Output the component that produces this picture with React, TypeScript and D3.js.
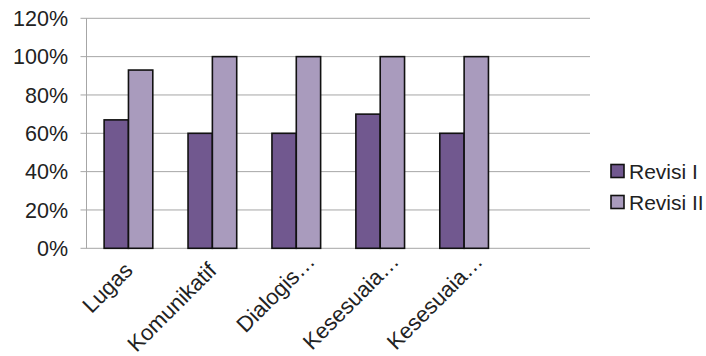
import React from "react";
import * as d3 from "d3";

const categories = ["Lugas", "Komunikatif", "Dialogis…", "Kesesuaia…", "Kesesuaia…"];
const series = ["Revisi I", "Revisi II"];
const revisi1 = [67, 60, 60, 70, 60];
const revisi2 = [93, 100, 100, 100, 100];
const yTicks = [0, 20, 40, 60, 80, 100, 120];
const colors = ["#71588F", "#A99BBD"];

const W = 706;
const H = 356;
const left = 86.5;
const right = 590;
const top = 18.3;
const bottom = 248.3;
const font = "'Liberation Sans', Arial, Helvetica, sans-serif";

export default function App() {
  const slots = categories.map((c, i) => `${i}`).concat(["empty"]);
  const x = d3.scaleBand<string>().domain(slots).range([left, right]).padding(0);
  const y = d3.scaleLinear().domain([0, 120]).range([bottom, top]);
  const step = x.step();
  const barW = step * 0.29;
  const values = [revisi1, revisi2];

  return (
    <svg width={W} height={H} style={{ position: "absolute", left: 0, top: 0 }} fontFamily={font}>
      <rect width={W} height={H} fill="#fff" />
      {yTicks.map((t) => (
        <g key={t}>
          <line x1={left - 6} x2={right} y1={y(t)} y2={y(t)} stroke="#A6A6A6" strokeWidth={1} />
          <text x={68} y={y(t)} dy="0.36em" textAnchor="end" fontSize={21.5} fill="#222">
            {t}%
          </text>
        </g>
      ))}
      <line x1={left} x2={left} y1={top} y2={bottom} stroke="#A6A6A6" strokeWidth={1} />
      {categories.map((c, i) => {
        const cx = (x(`${i}`) as number) + step / 2;
        const trunc = c.endsWith("…");
        const ax = cx + (trunc ? 20 : 5.5);
        const ay = bottom + (trunc ? 14.5 : 23.5);
        return (
          <g key={i}>
            {values.map((vals, s) => {
              const bx = cx - barW + s * barW;
              return (
                <rect
                  key={s}
                  x={bx}
                  y={y(vals[i])}
                  width={barW}
                  height={bottom - y(vals[i])}
                  fill={colors[s]}
                  stroke="#111"
                  strokeWidth={1.6}
                />
              );
            })}
            <text
              transform={`translate(${ax},${ay}) rotate(-45)`}
              textAnchor="end"
              fontSize={22}
              fill="#222"
            >
              {c}
            </text>
          </g>
        );
      })}
      {series.map((s, i) => (
        <g key={s} transform={`translate(611,${171 + i * 31})`}>
          <rect x={0} y={-6.5} width={13} height={13} fill={colors[i]} stroke="#111" strokeWidth={1.6} />
          <text x={18} y={0} dy="0.36em" fontSize={21} fill="#222">
            {s}
          </text>
        </g>
      ))}
    </svg>
  );
}
